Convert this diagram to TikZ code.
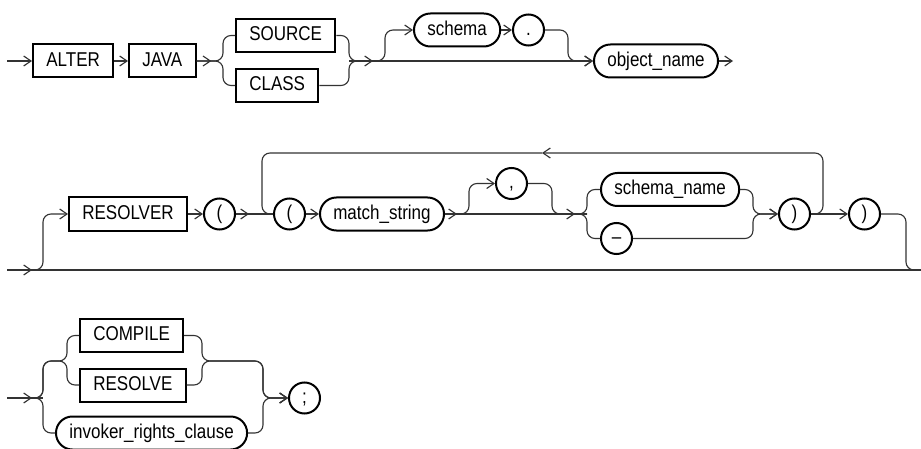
\documentclass[tikz,border=0pt]{standalone}
\usepackage{fontspec}
\newfontfamily\railfont[FakeStretch=0.85]{Liberation Sans}
\usetikzlibrary{arrows.meta, decorations.markings}

\begin{document}
\begin{tikzpicture}[
    x=0.75pt, y=-0.75pt,
    every node/.style={font=\railfont\fontsize{15}{17}\selectfont, text height=10.8pt, text depth=3pt},
    kw/.style={rectangle, draw, line width=1.5pt, minimum height=24.75pt, inner xsep=10pt, inner ysep=0pt},
    nt/.style={kw, rounded corners=12.3pt},
    sym/.style={circle, draw, line width=1.5pt, minimum size=23.25pt, inner sep=0pt},
    rail/.style={draw=black!80, line width=0.85pt, rounded corners=6pt},
    arr/.style={rail, -{Straight Barb[length=5.5pt, width=7.5pt]}},
    arrowat/.style={postaction={decorate}, decoration={markings,
        mark=at position #1 with {\arrow{Straight Barb[length=5.5pt, width=7.5pt]}}}}
]
\useasboundingbox (0,0) rectangle (921,449);

% ============ ROW 1: ALTER JAVA ============
\coordinate (r1in) at (7,61);
\node[kw, anchor=west] (alter) at (32,61) {ALTER};
\node[kw, anchor=west] (java) at (128,61) {JAVA};
\coordinate (g1l) at (223,61);
\node[kw, anchor=west] (source) at (235,35.5) {SOURCE};
\node[kw, anchor=west] (class) at (235,85.5) {CLASS};
\coordinate (g1r) at (349,61);
\coordinate (o1) at (385,61);
\node[nt, anchor=west] (schema) at (413,30) {schema};
\node[sym, anchor=west] (dot) at (512,30) {.};
\coordinate (o1r) at (568,61);
\node[nt, anchor=west] (objname) at (593,61) {object\_name};
\coordinate (r1out) at (733,61);

\draw[arr] (r1in) -- (alter.west);
\draw[arr] (alter) -- (java);
\draw[rail, arrowat=11pt] (java.east) -- (g1l) |- (source.west);
\draw[rail] (java.east) -- (g1l) |- (class.west);
\draw[rail] (source.east) -| (g1r) -- (o1);
\draw[rail] (class.east) -| (g1r) -- (o1);
\draw[arr, arrowat=18pt] (g1r) -- (objname.west);
\draw[arr] (g1r) -- (o1) |- (schema.west);
\draw[arr] (schema) -- (dot);
\draw[arr] (dot.east) -| (o1r) -- (objname.west);
\draw[arr] (objname.east) -- (r1out);

% ============ ROW 2: RESOLVER ============
\coordinate (r2in) at (7,270);
\coordinate (r2up) at (43,270);
\coordinate (r2dn) at (906,270);
\coordinate (r2out) at (921,270);
\node[kw, anchor=west] (resolver) at (68,214) {RESOLVER};
\node[sym, anchor=west] (lp1) at (203,214) {(};
\coordinate (lpl) at (262,214);
\node[sym, anchor=west] (lp2) at (273,214) {(};
\node[nt, anchor=west] (match) at (319,214) {match\_string};
\coordinate (c1) at (469,214);
\node[sym, anchor=west] (comma) at (495,183.5) {,};
\coordinate (c2) at (552,214);
\coordinate (g2l) at (587,214);
\node[nt, anchor=west] (schname) at (600,189.5) {schema\_name};
\node[sym, anchor=west] (dash) at (600,238.5) {–};
\coordinate (g2r) at (753,214);
\node[sym, anchor=west] (rp1) at (778,214) {)};
\coordinate (lpr) at (823,214);
\coordinate (lpmid) at (542,153);
\node[sym, anchor=west] (rp2) at (848,214) {)};

\draw[rail, arrowat=18.75pt] (r2in) -- (r2out);
\draw[arr] (r2in) -- (r2up) |- (resolver.west);
\draw[arr] (resolver) -- (lp1);
\draw[rail, arrowat=9.75pt] (lp1.east) -- (lp2.west);
\draw[arr] (lp2) -- (match);
\draw[rail, arrowat=9pt] (match.east) -- (c1);
\draw[rail, arrowat=-9pt] (c1) -- (g2l);
\draw[arr] (match.east) -- (c1) |- (comma.west);
\draw[rail] (comma.east) -| (c2) -- (g2l);
\draw[rail] (c2) -- (g2l) |- (schname.west);
\draw[rail] (c2) -- (g2l) |- (dash.west);
\draw[arr] (schname.east) -| (g2r) -- (rp1.west);
\draw[arr] (dash.east) -| (g2r) -- (rp1.west);
% repeat loop
\draw[arr] (rp1.east) -- (lpr) |- (lpmid);
\draw[rail] (lpmid) -| (lpl) -- (lp2.west);
\draw[arr] (rp1) -- (rp2);
\draw[rail] (rp2.east) -| (r2dn) -- (r2out);

% ============ ROW 3: COMPILE / RESOLVE ============
\coordinate (r3in) at (7,398);
\coordinate (g3l) at (43,398);
\coordinate (g3a) at (67,361);
\node[kw, anchor=west] (compile) at (79,335.5) {COMPILE};
\node[kw, anchor=west] (resolve) at (79,385) {RESOLVE};
\coordinate (g3b) at (202,361);
\node[nt, anchor=west] (invoker) at (55,433) {invoker\_rights\_clause};
\coordinate (g3r) at (263,398);
\node[sym, anchor=west] (semi) at (288,398) {;};

\draw[rail, arrowat=18.75pt] (r3in) -- (g3l);
\draw[rail] (r3in) -- (g3l) |- (g3a) |- (compile.west);
\draw[rail] (r3in) -- (g3l) |- (g3a) |- (resolve.west);
\draw[rail] (r3in) -- (g3l) |- (invoker.west);
\draw[arr] (compile.east) -| (g3b) -| (g3r) -- (semi.west);
\draw[arr] (resolve.east) -| (g3b) -| (g3r) -- (semi.west);
\draw[arr] (invoker.east) -| (g3r) -- (semi.west);

\end{tikzpicture}
\end{document}
